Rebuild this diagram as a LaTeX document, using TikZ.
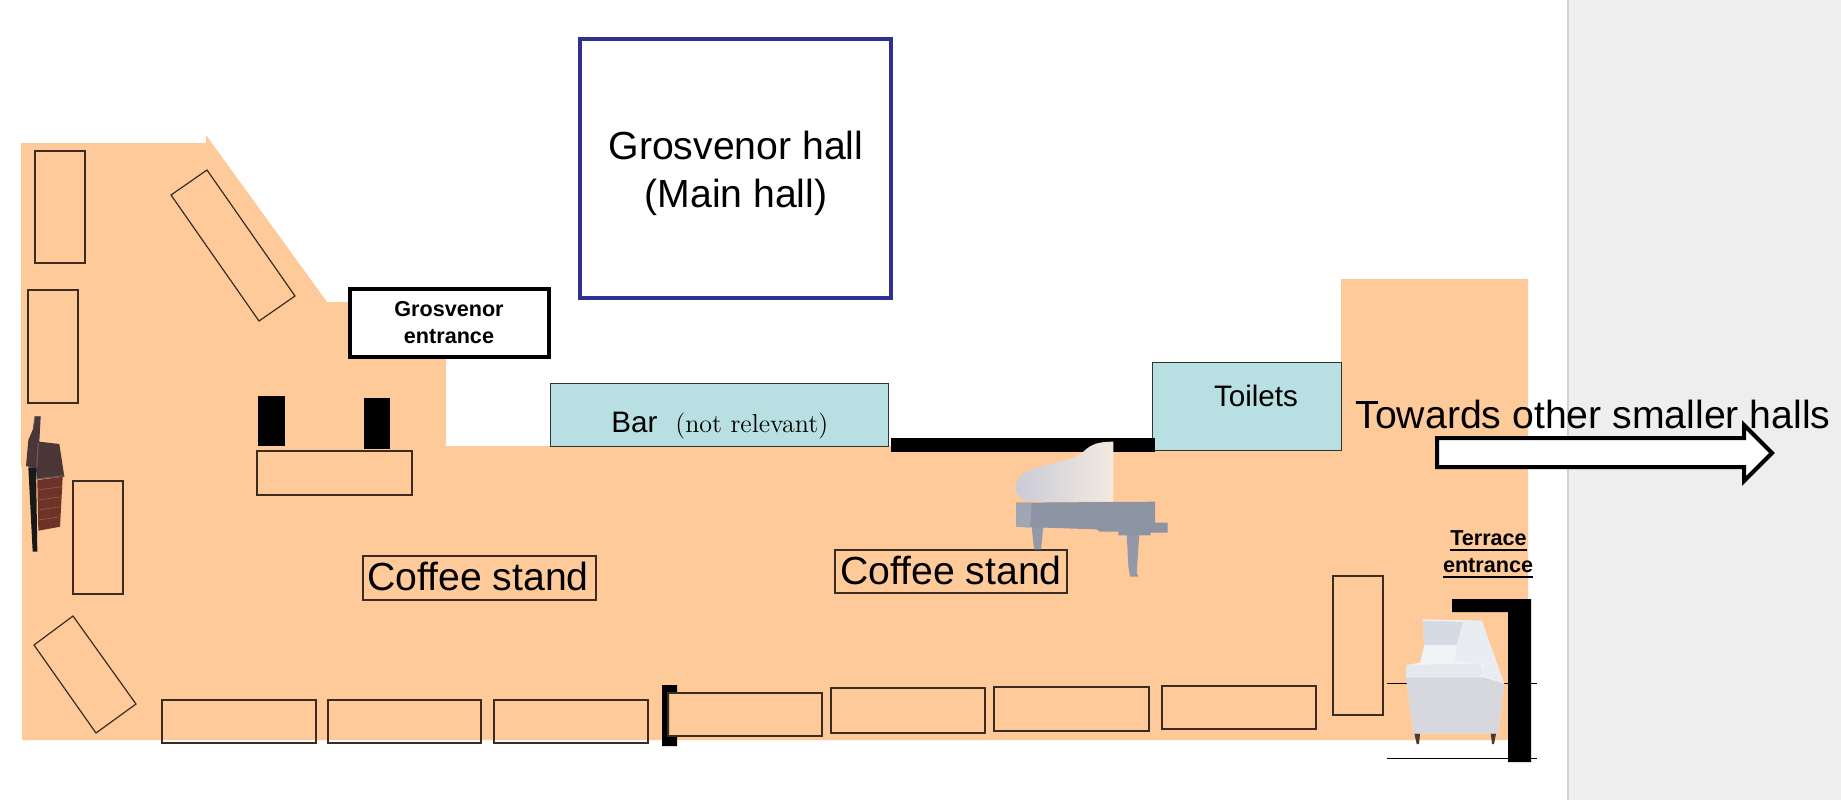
\documentclass[tikz,border=0pt]{standalone}
\usepackage{fontspec}
\setmainfont{Liberation Sans}
\newfontfamily\notefont{Latin Modern Roman}
\definecolor{floorc}{HTML}{FFCA99}
\definecolor{panelc}{HTML}{EEEEEE}
\definecolor{panelb}{HTML}{D2D2D2}
\definecolor{hallc}{HTML}{2E3192}
\definecolor{roomc}{HTML}{B8DFE2}
\definecolor{tblc}{HTML}{3A2C20}
\definecolor{roofc}{HTML}{4A3636}
\definecolor{roofl}{HTML}{6A5A5A}
\definecolor{brickc}{HTML}{6E3226}
\definecolor{mortc}{HTML}{8A6A60}
\definecolor{legc}{HTML}{9299A8}
\definecolor{casec}{HTML}{8C93A3}
\definecolor{casel}{HTML}{A0A6B3}
\definecolor{lidl}{HTML}{C9CAD8}
\definecolor{lidr}{HTML}{F3EAE0}
\definecolor{sofaleg}{HTML}{4A3A30}
\definecolor{sofaa}{HTML}{D6DBE3}
\definecolor{sofab}{HTML}{E9ECF2}
\definecolor{sofac}{HTML}{F2F3F7}
\definecolor{sofad}{HTML}{E6E8EE}
\definecolor{sofae}{HTML}{D6D8DD}
\tikzset{
  tbl/.style={draw=tblc,line width=.6pt,fill=none},
  bigt/.style={font=\fontsize{19.6}{23}\selectfont,inner sep=0pt,anchor=base},
  midt/.style={font=\fontsize{14.8}{18}\selectfont,inner sep=0pt,anchor=base},
  boldt/.style={font=\bfseries\fontsize{10.8}{13}\selectfont,inner sep=0pt,anchor=base},
  ul/.style={line width=1.1pt,black},
  room/.style={draw=black!80,line width=.5pt,fill=roomc},
}
\begin{document}
\begin{tikzpicture}[x=0.5pt,y=-0.5pt]
\useasboundingbox (0,0) rectangle (1841,800);
\fill[white] (0,0) rectangle (1841,800);
% side panel
\fill[panelc] (1568,0) rectangle (1841,800);
\draw[panelb,line width=.6pt] (1568,0) -- (1568,800);
% floor
\fill[floorc] (21,143) -- (206,143) -- (206,135) -- (327,302) -- (446,302) -- (446,446) -- (1341,446) -- (1341,279) -- (1528,279) -- (1528,740) -- (22,740) -- (22,467) -- (21,467) -- cycle;
% rooms
\draw[hallc,line width=1.9pt,fill=white] (580,39) rectangle (891,298);
\node[bigt] (hallA) at (736,159) {Grosvenor hall};
\node[bigt] (hallB) at (736,207) {(Main hall)};
\draw[black,line width=1.8pt,fill=white] (350,289) rectangle (549,357);
\node[boldt] (geA) at (449,316) {Grosvenor};
\node[boldt] (geB) at (449,343) {entrance};
\draw[room] (550,383) rectangle (888,446);
\node[midt,anchor=base west] (bar) at (611,432) {Bar};
\node[font=\notefont\fontsize{13}{16}\selectfont,inner sep=0pt,anchor=base west] (barn) at (675,432) {(not relevant)};
\draw[room] (1152,362) rectangle (1341,450);
\node[midt] (toilets) at (1256,406) {Toilets};
\fill[black] (891,438) rectangle (1155,452);
% posts
\fill[black] (258,396) rectangle (285,446);
\fill[black] (364,398) rectangle (390,449);
% tables
\draw[tbl] (35,151) rectangle (85,263);
\draw[tbl] (28,290) rectangle (78,403);
\draw[tbl] (73,481) rectangle (123,594);
\draw[tbl] (207,170) -- (295,296) -- (259,321) -- (171,195) -- cycle;
\draw[tbl] (73,616) -- (136,704) -- (96,733) -- (34,645) -- cycle;
\draw[tbl] (257,451) rectangle (412,495);
\draw[tbl] (162,700) rectangle (316,743);
\draw[tbl] (328,700) rectangle (481,743);
\draw[tbl] (494,700) rectangle (648,743);
\fill[black] (662,685) -- (677,685) -- (677,693) -- (669,693) -- (669,736) -- (677,736) -- (677,746) -- (662,746) -- cycle;
\draw[tbl] (668,693) rectangle (822,736);
\draw[tbl] (831,688) rectangle (985,733);
\draw[tbl] (994,687) rectangle (1149,731);
\draw[tbl] (1162,686) rectangle (1316,729);
\draw[tbl] (1333,576) rectangle (1383,715);
% coffee stands
\draw[tbl] (363,556) rectangle (596,600);
\node[bigt] (cA) at (478,590) {Coffee stand};
\draw[tbl] (835,550) rectangle (1067,593);
\node[bigt] (cB) at (951,584) {Coffee stand};
% terrace
\draw[black,line width=.5pt] (1387,683) -- (1537,683);
\draw[black,line width=.5pt] (1387,758) -- (1537,758);
\fill[black] (1452,599) -- (1531,599) -- (1531,762) -- (1508,762) -- (1508,612) -- (1452,612) -- cycle;
\node[boldt] (teA) at (1488.5,545) {Terrace};
\node[boldt] (teB) at (1488,572) {entrance};
\draw[ul] ([yshift=-2.6pt]teA.base west) -- ([yshift=-2.6pt]teA.base east);
\draw[ul] ([yshift=-2.6pt]teB.base west) -- ([yshift=-2.6pt]teB.base east);
% fireplace
\begin{scope}[shift={(0,380)},x=0.1667pt,y=-0.1667pt]
\fill[black!90] (85,262) -- (108,262) -- (112,515) -- (98,515) -- cycle;
\fill[roofc] (105,110) -- (122,110) -- (118,185) -- (178,192) -- (193,290) -- (110,297) -- (108,265) -- (78,258) -- (85,180) -- (100,145) -- cycle;
\draw[roofl,line width=.5pt] (100,145) -- (105,110) -- (122,110);
\draw[roofl,line width=.6pt] (110,297) -- (193,287);
\draw[roofl,line width=.6pt] (115,190) -- (110,262);
\fill[brickc] (112,300) -- (188,290) -- (180,440) -- (115,452) -- cycle;
\draw[mortc,line width=.25pt] (112,330) -- (186,320) (113,360) -- (185,350) (114,390) -- (183,380) (114,420) -- (181,410);
\end{scope}
% piano
\begin{scope}[shift={(980,420)},x=0.1667pt,y=-0.1667pt]
\fill[legc] (155,320) -- (190,320) -- (183,388) -- (162,388) -- cycle;
\fill[legc] (440,340) -- (478,340) -- (470,458) -- (475,470) -- (450,470) -- (445,440) -- cycle;
\fill[casec] (108,248) -- (525,245) -- (525,308) -- (563,308) -- (563,338) -- (512,338) -- (512,346) -- (415,346) -- (415,335) -- (360,335) -- (350,328) -- (108,320) -- cycle;
\fill[casel] (108,248) -- (155,248) -- (150,323) -- (108,320) -- cycle;
\shade[left color=lidl,right color=lidr] (400,65) .. controls (360,65) and (335,70) .. (310,95) .. controls (270,130) and (170,130) .. (125,165) .. controls (95,190) and (100,235) .. (150,245) -- (400,245) -- cycle;
\end{scope}
% couch
\begin{scope}[shift={(1320,500)},x=0.1667pt,y=-0.1667pt]
\fill[sofaleg] (283,700) -- (300,700) -- (297,732) -- (290,732) -- cycle;
\fill[sofaleg] (512,700) -- (528,700) -- (522,732) -- (516,732) -- cycle;
\fill[sofac] (308,358) -- (485,362) -- (552,550) -- (535,700) -- (280,700) -- (258,530) -- (258,495) -- (300,488) -- (313,435) -- cycle;
\fill[sofaa] (308,362) -- (430,365) -- (410,435) -- (313,435) -- cycle;
\fill[sofab] (430,362) -- (485,362) -- (550,548) -- (492,528) -- (487,490) -- (405,482) -- (410,435) -- cycle;
\fill[sofad] (258,495) -- (480,490) -- (490,520) -- (480,530) -- (258,530) -- cycle;
\fill[sofae] (258,532) -- (490,532) -- (552,550) -- (535,700) -- (280,700) -- cycle;
\end{scope}
% arrow
\draw[black,line width=2pt,fill=white,line join=miter] (1437,438) -- (1744,438) -- (1744,425) -- (1772,453) -- (1744,481) -- (1744,467) -- (1437,467) -- cycle;
\node[bigt] (tw) at (1593,428) {Towards other smaller halls};
\end{tikzpicture}
\end{document}
